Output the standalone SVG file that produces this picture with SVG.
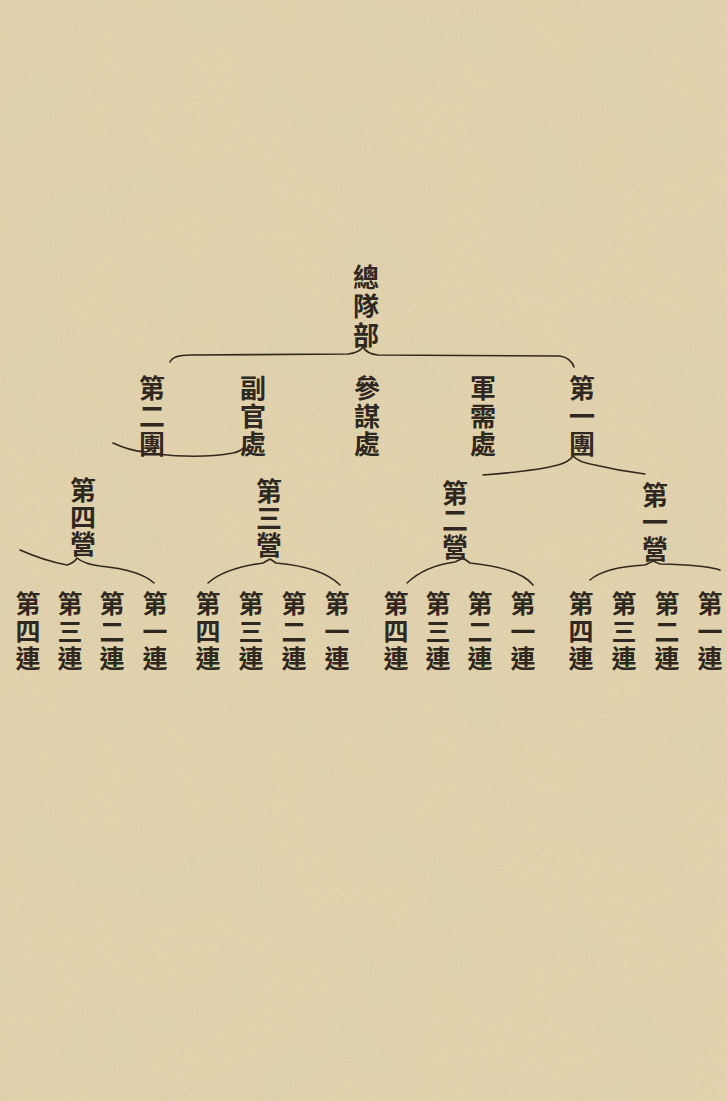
<svg xmlns="http://www.w3.org/2000/svg" width="727" height="1101" viewBox="0 0 727 1101">
  <defs>
    <filter id="paper" x="0" y="0" width="100%" height="100%">
      <feTurbulence type="fractalNoise" baseFrequency="0.9" numOctaves="2" seed="7" result="n"/>
      <feColorMatrix type="matrix" values="0 0 0 0 0.45  0 0 0 0 0.38  0 0 0 0 0.25  0 0 0 0.3 0" in="n"/>
    </filter>
    <filter id="blotch" x="0" y="0" width="100%" height="100%">
      <feTurbulence type="fractalNoise" baseFrequency="0.012" numOctaves="3" seed="3" result="n"/>
      <feColorMatrix type="matrix" values="0 0 0 0 0.7  0 0 0 0 0.64  0 0 0 0 0.52  0 0 0 0.35 -0.12" in="n"/>
    </filter>
    <style>
      .lbl { font-family: "Noto Sans CJK TC", "Noto Sans CJK SC", sans-serif; font-size: 26px; font-weight: 700; fill: #2e2820; writing-mode: vertical-rl; text-orientation: upright; }
      .t1 { letter-spacing: 3px; }
      .t2 { letter-spacing: 2px; }
      .t3 { letter-spacing: 1px; }
      .sm { font-size: 25px; letter-spacing: 2.5px; }
      .br { fill: none; stroke: #33291f; stroke-width: 1.6; stroke-linecap: round; stroke-linejoin: round; }
    </style>
  </defs>

  <rect width="727" height="1101" fill="#e9d9b2"/>
  <rect width="727" height="1101" filter="url(#blotch)"/>
  <rect width="727" height="1101" filter="url(#paper)"/>

  <g id="connectors">
    <path class="br" d="M170,362 Q173,355 190,355 L348,354 Q359,353 363,347 Q367,354 378,355 L560,356 Q571,358 574,367"/>
    <path class="br" d="M113,443 Q130,451 146,452 L151,449 L156,454 Q200,459 233,453 Q242,451 245,446"/>
    <path class="br" d="M483,475 Q535,471 558,465 Q569,462 573,456 Q578,462 595,465 Q620,471 645,474"/>
    <path class="br" d="M20,550 Q45,561 67,565 Q74,563 77,558 Q84,564 100,566 Q140,570 154,583"/>
    <path class="br" d="M208,583 Q225,568 263,563 L270,559 L276,563 Q322,567 340,585"/>
    <path class="br" d="M407,583 Q425,566 455,562 L463,558 L470,563 Q520,568 533,585"/>
    <path class="br" d="M590,580 Q605,567 645,565 L653,561 L660,564 Q705,565 720,570"/>
  </g>

  <g id="zongduibu"><text class="lbl t1" x="366" y="264">總隊部</text></g>

  <g id="di-er-tuan"><text class="lbl t2" x="152" y="375">第二團</text></g>
  <g id="fuguanchu"><text class="lbl t2" x="253" y="375">副官處</text></g>
  <g id="canmouchu"><text class="lbl t2" x="367" y="375">參謀處</text></g>
  <g id="junxuchu"><text class="lbl t2" x="483" y="375">軍需處</text></g>
  <g id="di-yi-tuan"><text class="lbl t2" x="582" y="375">第一團</text></g>

  <g id="ying1"><text class="lbl t3" x="655" y="482">第一營</text></g>
  <g id="ying2"><text class="lbl t3" x="455" y="480">第二營</text></g>
  <g id="ying3"><text class="lbl t3" x="269" y="478">第三營</text></g>
  <g id="ying4"><text class="lbl t3" x="83" y="477">第四營</text></g>

  <g id="y1-lian1"><text class="lbl sm" x="710" y="591">第一連</text></g>
  <g id="y1-lian2"><text class="lbl sm" x="667" y="591">第二連</text></g>
  <g id="y1-lian3"><text class="lbl sm" x="624" y="591">第三連</text></g>
  <g id="y1-lian4"><text class="lbl sm" x="581" y="591">第四連</text></g>

  <g id="y2-lian1"><text class="lbl sm" x="523" y="591">第一連</text></g>
  <g id="y2-lian2"><text class="lbl sm" x="480" y="591">第二連</text></g>
  <g id="y2-lian3"><text class="lbl sm" x="438" y="591">第三連</text></g>
  <g id="y2-lian4"><text class="lbl sm" x="396" y="591">第四連</text></g>

  <g id="y3-lian1"><text class="lbl sm" x="337" y="591">第一連</text></g>
  <g id="y3-lian2"><text class="lbl sm" x="294" y="591">第二連</text></g>
  <g id="y3-lian3"><text class="lbl sm" x="251" y="591">第三連</text></g>
  <g id="y3-lian4"><text class="lbl sm" x="208" y="591">第四連</text></g>

  <g id="y4-lian1"><text class="lbl sm" x="155" y="591">第一連</text></g>
  <g id="y4-lian2"><text class="lbl sm" x="112" y="591">第二連</text></g>
  <g id="y4-lian3"><text class="lbl sm" x="70" y="591">第三連</text></g>
  <g id="y4-lian4"><text class="lbl sm" x="28" y="591">第四連</text></g>
</svg>
